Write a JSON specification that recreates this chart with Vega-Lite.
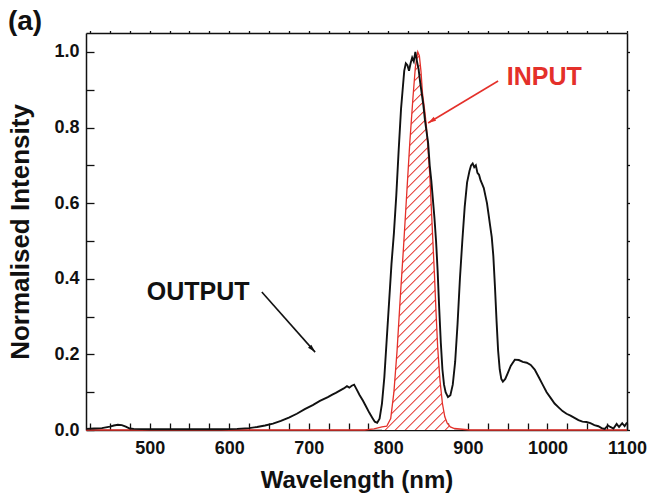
{
"$schema": "https://vega.github.io/schema/vega-lite/v6.json",
"width": 541, "height": 397,
"autosize": {"type": "none"},
"padding": {"left": 86, "top": 33, "right": 22, "bottom": 64},
"title": {"text": "(a)", "anchor": "start", "frame": "bounds", "fontSize": 28, "fontWeight": "bold", "color": "#111", "baseline": "alphabetic", "offset": -28},
"config": {
  "font": "Liberation Sans",
  "view": {"stroke": null},
  "axis": {"grid": false, "domainColor": "#111", "domainWidth": 1.5, "tickColor": "#111", "tickWidth": 1.3, "labelColor": "#111", "titleColor": "#111", "labelFontWeight": "bold", "titleFontWeight": "bold", "labelFontSize": 18, "titleFontSize": 24, "labelOverlap": false, "labelFlush": false, "labelBound": false}
},
"datasets": {
  "output": [
    {"wavelength": 420, "intensity": 0.003}, {"wavelength": 430, "intensity": 0.004}, {"wavelength": 440, "intensity": 0.005}, {"wavelength": 450, "intensity": 0.009}, {"wavelength": 455, "intensity": 0.012}, {"wavelength": 460, "intensity": 0.014}, {"wavelength": 465, "intensity": 0.013}, {"wavelength": 470, "intensity": 0.009}, {"wavelength": 475, "intensity": 0.004}, {"wavelength": 480, "intensity": 0.003}, {"wavelength": 500, "intensity": 0.002}, {"wavelength": 530, "intensity": 0.002}, {"wavelength": 560, "intensity": 0.002}, {"wavelength": 590, "intensity": 0.002}, {"wavelength": 610, "intensity": 0.003}, {"wavelength": 625, "intensity": 0.005}, {"wavelength": 635, "intensity": 0.008}, {"wavelength": 645, "intensity": 0.012}, {"wavelength": 655, "intensity": 0.017}, {"wavelength": 665, "intensity": 0.024}, {"wavelength": 675, "intensity": 0.033}, {"wavelength": 685, "intensity": 0.043}, {"wavelength": 695, "intensity": 0.055}, {"wavelength": 705, "intensity": 0.066}, {"wavelength": 714, "intensity": 0.077}, {"wavelength": 724, "intensity": 0.087}, {"wavelength": 729, "intensity": 0.093}, {"wavelength": 734, "intensity": 0.098}, {"wavelength": 739, "intensity": 0.104}, {"wavelength": 744, "intensity": 0.110}, {"wavelength": 748, "intensity": 0.116}, {"wavelength": 751, "intensity": 0.112}, {"wavelength": 754, "intensity": 0.117}, {"wavelength": 757, "intensity": 0.120}, {"wavelength": 760, "intensity": 0.108}, {"wavelength": 764, "intensity": 0.092}, {"wavelength": 768, "intensity": 0.078}, {"wavelength": 772, "intensity": 0.062}, {"wavelength": 776, "intensity": 0.046}, {"wavelength": 780, "intensity": 0.032}, {"wavelength": 783, "intensity": 0.022}, {"wavelength": 786, "intensity": 0.019}, {"wavelength": 789, "intensity": 0.030}, {"wavelength": 792, "intensity": 0.070}, {"wavelength": 795, "intensity": 0.14}, {"wavelength": 798, "intensity": 0.24}, {"wavelength": 801, "intensity": 0.34}, {"wavelength": 804, "intensity": 0.44}, {"wavelength": 807, "intensity": 0.52}, {"wavelength": 810, "intensity": 0.62}, {"wavelength": 813, "intensity": 0.74}, {"wavelength": 816, "intensity": 0.85}, {"wavelength": 818, "intensity": 0.90}, {"wavelength": 820, "intensity": 0.95}, {"wavelength": 822, "intensity": 0.97}, {"wavelength": 824, "intensity": 0.965}, {"wavelength": 826, "intensity": 0.95}, {"wavelength": 828, "intensity": 0.97}, {"wavelength": 830, "intensity": 0.985}, {"wavelength": 832, "intensity": 0.975}, {"wavelength": 834, "intensity": 1.0}, {"wavelength": 836, "intensity": 0.975}, {"wavelength": 838, "intensity": 0.955}, {"wavelength": 840, "intensity": 0.92}, {"wavelength": 842, "intensity": 0.89}, {"wavelength": 844, "intensity": 0.86}, {"wavelength": 846, "intensity": 0.82}, {"wavelength": 848, "intensity": 0.79}, {"wavelength": 850, "intensity": 0.76}, {"wavelength": 852, "intensity": 0.70}, {"wavelength": 854, "intensity": 0.66}, {"wavelength": 856, "intensity": 0.61}, {"wavelength": 858, "intensity": 0.56}, {"wavelength": 860, "intensity": 0.50}, {"wavelength": 862, "intensity": 0.42}, {"wavelength": 864, "intensity": 0.32}, {"wavelength": 866, "intensity": 0.23}, {"wavelength": 868, "intensity": 0.16}, {"wavelength": 870, "intensity": 0.12}, {"wavelength": 872, "intensity": 0.10}, {"wavelength": 875, "intensity": 0.087}, {"wavelength": 878, "intensity": 0.092}, {"wavelength": 881, "intensity": 0.12}, {"wavelength": 884, "intensity": 0.18}, {"wavelength": 887, "intensity": 0.28}, {"wavelength": 890, "intensity": 0.40}, {"wavelength": 893, "intensity": 0.50}, {"wavelength": 896, "intensity": 0.59}, {"wavelength": 899, "intensity": 0.655}, {"wavelength": 902, "intensity": 0.685}, {"wavelength": 904, "intensity": 0.70}, {"wavelength": 906, "intensity": 0.705}, {"wavelength": 908, "intensity": 0.695}, {"wavelength": 910, "intensity": 0.70}, {"wavelength": 912, "intensity": 0.68}, {"wavelength": 914, "intensity": 0.675}, {"wavelength": 916, "intensity": 0.66}, {"wavelength": 918, "intensity": 0.65}, {"wavelength": 920, "intensity": 0.64}, {"wavelength": 922, "intensity": 0.62}, {"wavelength": 924, "intensity": 0.60}, {"wavelength": 926, "intensity": 0.57}, {"wavelength": 928, "intensity": 0.54}, {"wavelength": 930, "intensity": 0.51}, {"wavelength": 932, "intensity": 0.46}, {"wavelength": 934, "intensity": 0.38}, {"wavelength": 936, "intensity": 0.29}, {"wavelength": 938, "intensity": 0.21}, {"wavelength": 940, "intensity": 0.16}, {"wavelength": 942, "intensity": 0.135}, {"wavelength": 944, "intensity": 0.128}, {"wavelength": 947, "intensity": 0.135}, {"wavelength": 950, "intensity": 0.15}, {"wavelength": 954, "intensity": 0.17}, {"wavelength": 959, "intensity": 0.186}, {"wavelength": 964, "intensity": 0.185}, {"wavelength": 969, "intensity": 0.18}, {"wavelength": 974, "intensity": 0.178}, {"wavelength": 979, "intensity": 0.172}, {"wavelength": 984, "intensity": 0.16}, {"wavelength": 989, "intensity": 0.14}, {"wavelength": 994, "intensity": 0.12}, {"wavelength": 999, "intensity": 0.10}, {"wavelength": 1004, "intensity": 0.085}, {"wavelength": 1009, "intensity": 0.07}, {"wavelength": 1014, "intensity": 0.06}, {"wavelength": 1019, "intensity": 0.05}, {"wavelength": 1024, "intensity": 0.043}, {"wavelength": 1029, "intensity": 0.038}, {"wavelength": 1034, "intensity": 0.032}, {"wavelength": 1039, "intensity": 0.026}, {"wavelength": 1044, "intensity": 0.022}, {"wavelength": 1049, "intensity": 0.021}, {"wavelength": 1054, "intensity": 0.018}, {"wavelength": 1059, "intensity": 0.013}, {"wavelength": 1064, "intensity": 0.010}, {"wavelength": 1068, "intensity": 0.005}, {"wavelength": 1072, "intensity": 0.003}, {"wavelength": 1076, "intensity": 0.012}, {"wavelength": 1079, "intensity": 0.008}, {"wavelength": 1083, "intensity": 0.004}, {"wavelength": 1087, "intensity": 0.016}, {"wavelength": 1090, "intensity": 0.008}, {"wavelength": 1094, "intensity": 0.018}, {"wavelength": 1097, "intensity": 0.010}, {"wavelength": 1100, "intensity": 0.02}
  ],
  "input": [
    {"wavelength": 420, "intensity": 0}, {"wavelength": 600, "intensity": 0}, {"wavelength": 770, "intensity": 0}, {"wavelength": 782, "intensity": 0.003}, {"wavelength": 792, "intensity": 0.008}, {"wavelength": 798, "intensity": 0.01}, {"wavelength": 803, "intensity": 0.03}, {"wavelength": 807, "intensity": 0.10}, {"wavelength": 811, "intensity": 0.21}, {"wavelength": 815, "intensity": 0.35}, {"wavelength": 819, "intensity": 0.48}, {"wavelength": 823, "intensity": 0.62}, {"wavelength": 827, "intensity": 0.76}, {"wavelength": 831, "intensity": 0.88}, {"wavelength": 834, "intensity": 0.96}, {"wavelength": 837, "intensity": 1.0}, {"wavelength": 839, "intensity": 0.99}, {"wavelength": 841, "intensity": 0.95}, {"wavelength": 843, "intensity": 0.89}, {"wavelength": 846, "intensity": 0.84}, {"wavelength": 848, "intensity": 0.80}, {"wavelength": 850, "intensity": 0.74}, {"wavelength": 852, "intensity": 0.68}, {"wavelength": 854, "intensity": 0.59}, {"wavelength": 856, "intensity": 0.50}, {"wavelength": 858, "intensity": 0.41}, {"wavelength": 860, "intensity": 0.31}, {"wavelength": 862, "intensity": 0.22}, {"wavelength": 865, "intensity": 0.13}, {"wavelength": 868, "intensity": 0.07}, {"wavelength": 871, "intensity": 0.035}, {"wavelength": 874, "intensity": 0.018}, {"wavelength": 878, "intensity": 0.008}, {"wavelength": 883, "intensity": 0.004}, {"wavelength": 893, "intensity": 0.002}, {"wavelength": 903, "intensity": 0}, {"wavelength": 1000, "intensity": 0}, {"wavelength": 1100, "intensity": 0}
  ],
  "arrow_out": [{"x": 641, "y": 0.365, "x2": 708, "y2": 0.206}],
  "arrow_in": [{"x": 938, "y": 0.923, "x2": 850, "y2": 0.812}],
  "note_out": [{"x": 561, "y": 0.365, "label": "OUTPUT"}],
  "note_in": [{"x": 996, "y": 0.934, "label": "INPUT"}]
},
"layer": [
  {
    "data": {"name": "input"},
    "transform": [{"filter": "datum.wavelength >= 790 && datum.wavelength <= 890"}],
    "mark": {"type": "area", "fill": {"gradient": "linear", "x1": 0, "y1": 0, "x2": 0.2201, "y2": 1.1494, "stops": [
      {"offset": 0, "color": "#ffffff"}, {"offset": 0.003, "color": "#e4302a"}, {"offset": 0.006, "color": "#ffffff"},
      {"offset": 0.0222, "color": "#ffffff"}, {"offset": 0.0252, "color": "#e4302a"}, {"offset": 0.0282, "color": "#ffffff"},
      {"offset": 0.0444, "color": "#ffffff"}, {"offset": 0.0474, "color": "#e4302a"}, {"offset": 0.0504, "color": "#ffffff"},
      {"offset": 0.0666, "color": "#ffffff"}, {"offset": 0.0696, "color": "#e4302a"}, {"offset": 0.0726, "color": "#ffffff"},
      {"offset": 0.0888, "color": "#ffffff"}, {"offset": 0.0918, "color": "#e4302a"}, {"offset": 0.0948, "color": "#ffffff"},
      {"offset": 0.111, "color": "#ffffff"}, {"offset": 0.114, "color": "#e4302a"}, {"offset": 0.117, "color": "#ffffff"},
      {"offset": 0.1332, "color": "#ffffff"}, {"offset": 0.1362, "color": "#e4302a"}, {"offset": 0.1392, "color": "#ffffff"},
      {"offset": 0.1554, "color": "#ffffff"}, {"offset": 0.1584, "color": "#e4302a"}, {"offset": 0.1614, "color": "#ffffff"},
      {"offset": 0.1776, "color": "#ffffff"}, {"offset": 0.1806, "color": "#e4302a"}, {"offset": 0.1836, "color": "#ffffff"},
      {"offset": 0.1998, "color": "#ffffff"}, {"offset": 0.2028, "color": "#e4302a"}, {"offset": 0.2058, "color": "#ffffff"},
      {"offset": 0.222, "color": "#ffffff"}, {"offset": 0.225, "color": "#e4302a"}, {"offset": 0.228, "color": "#ffffff"},
      {"offset": 0.2442, "color": "#ffffff"}, {"offset": 0.2472, "color": "#e4302a"}, {"offset": 0.2502, "color": "#ffffff"},
      {"offset": 0.2664, "color": "#ffffff"}, {"offset": 0.2694, "color": "#e4302a"}, {"offset": 0.2724, "color": "#ffffff"},
      {"offset": 0.2886, "color": "#ffffff"}, {"offset": 0.2916, "color": "#e4302a"}, {"offset": 0.2946, "color": "#ffffff"},
      {"offset": 0.3108, "color": "#ffffff"}, {"offset": 0.3138, "color": "#e4302a"}, {"offset": 0.3168, "color": "#ffffff"},
      {"offset": 0.333, "color": "#ffffff"}, {"offset": 0.336, "color": "#e4302a"}, {"offset": 0.339, "color": "#ffffff"},
      {"offset": 0.3552, "color": "#ffffff"}, {"offset": 0.3582, "color": "#e4302a"}, {"offset": 0.3612, "color": "#ffffff"},
      {"offset": 0.3774, "color": "#ffffff"}, {"offset": 0.3804, "color": "#e4302a"}, {"offset": 0.3834, "color": "#ffffff"},
      {"offset": 0.3996, "color": "#ffffff"}, {"offset": 0.4026, "color": "#e4302a"}, {"offset": 0.4056, "color": "#ffffff"},
      {"offset": 0.4218, "color": "#ffffff"}, {"offset": 0.4248, "color": "#e4302a"}, {"offset": 0.4278, "color": "#ffffff"},
      {"offset": 0.444, "color": "#ffffff"}, {"offset": 0.447, "color": "#e4302a"}, {"offset": 0.45, "color": "#ffffff"},
      {"offset": 0.4662, "color": "#ffffff"}, {"offset": 0.4692, "color": "#e4302a"}, {"offset": 0.4722, "color": "#ffffff"},
      {"offset": 0.4884, "color": "#ffffff"}, {"offset": 0.4914, "color": "#e4302a"}, {"offset": 0.4944, "color": "#ffffff"},
      {"offset": 0.5106, "color": "#ffffff"}, {"offset": 0.5136, "color": "#e4302a"}, {"offset": 0.5166, "color": "#ffffff"},
      {"offset": 0.5328, "color": "#ffffff"}, {"offset": 0.5358, "color": "#e4302a"}, {"offset": 0.5388, "color": "#ffffff"},
      {"offset": 0.555, "color": "#ffffff"}, {"offset": 0.558, "color": "#e4302a"}, {"offset": 0.561, "color": "#ffffff"},
      {"offset": 0.5772, "color": "#ffffff"}, {"offset": 0.5802, "color": "#e4302a"}, {"offset": 0.5832, "color": "#ffffff"},
      {"offset": 0.5994, "color": "#ffffff"}, {"offset": 0.6024, "color": "#e4302a"}, {"offset": 0.6054, "color": "#ffffff"},
      {"offset": 0.6216, "color": "#ffffff"}, {"offset": 0.6246, "color": "#e4302a"}, {"offset": 0.6276, "color": "#ffffff"},
      {"offset": 0.6438, "color": "#ffffff"}, {"offset": 0.6468, "color": "#e4302a"}, {"offset": 0.6498, "color": "#ffffff"},
      {"offset": 0.666, "color": "#ffffff"}, {"offset": 0.669, "color": "#e4302a"}, {"offset": 0.672, "color": "#ffffff"},
      {"offset": 0.6882, "color": "#ffffff"}, {"offset": 0.6912, "color": "#e4302a"}, {"offset": 0.6942, "color": "#ffffff"},
      {"offset": 0.7104, "color": "#ffffff"}, {"offset": 0.7134, "color": "#e4302a"}, {"offset": 0.7164, "color": "#ffffff"},
      {"offset": 0.7326, "color": "#ffffff"}, {"offset": 0.7356, "color": "#e4302a"}, {"offset": 0.7386, "color": "#ffffff"},
      {"offset": 0.7548, "color": "#ffffff"}, {"offset": 0.7578, "color": "#e4302a"}, {"offset": 0.7608, "color": "#ffffff"},
      {"offset": 0.777, "color": "#ffffff"}, {"offset": 0.78, "color": "#e4302a"}, {"offset": 0.783, "color": "#ffffff"},
      {"offset": 0.7992, "color": "#ffffff"}, {"offset": 0.8022, "color": "#e4302a"}, {"offset": 0.8052, "color": "#ffffff"},
      {"offset": 0.8214, "color": "#ffffff"}, {"offset": 0.8244, "color": "#e4302a"}, {"offset": 0.8274, "color": "#ffffff"},
      {"offset": 0.8436, "color": "#ffffff"}, {"offset": 0.8466, "color": "#e4302a"}, {"offset": 0.8496, "color": "#ffffff"},
      {"offset": 0.8658, "color": "#ffffff"}, {"offset": 0.8688, "color": "#e4302a"}, {"offset": 0.8718, "color": "#ffffff"},
      {"offset": 0.888, "color": "#ffffff"}, {"offset": 0.891, "color": "#e4302a"}, {"offset": 0.894, "color": "#ffffff"},
      {"offset": 0.9102, "color": "#ffffff"}, {"offset": 0.9132, "color": "#e4302a"}, {"offset": 0.9162, "color": "#ffffff"},
      {"offset": 0.9324, "color": "#ffffff"}, {"offset": 0.9354, "color": "#e4302a"}, {"offset": 0.9384, "color": "#ffffff"},
      {"offset": 0.9546, "color": "#ffffff"}, {"offset": 0.9576, "color": "#e4302a"}, {"offset": 0.9606, "color": "#ffffff"},
      {"offset": 0.9768, "color": "#ffffff"}, {"offset": 0.9798, "color": "#e4302a"}, {"offset": 0.9828, "color": "#ffffff"},
      {"offset": 1, "color": "#ffffff"}
    ]}},
    "encoding": {
      "x": {"field": "wavelength", "type": "quantitative", "scale": {"domain": [420, 1100], "nice": false, "zero": false},
        "axis": {"orient": "bottom", "title": "Wavelength (nm)", "values": [425,450,475,500,525,550,575,600,625,650,675,700,725,750,775,800,825,850,875,900,925,950,975,1000,1025,1050,1075,1100], "labelExpr": "datum.value % 100 === 0 ? datum.label : ''", "format": "d", "tickSize": -7, "labelPadding": 16, "titlePadding": 11}},
      "y": {"field": "intensity", "type": "quantitative", "scale": {"domain": [0, 1.05], "nice": false},
        "axis": {"orient": "left", "title": "Normalised Intensity", "titleFontSize": 26, "values": [0,0.1,0.2,0.3,0.4,0.5,0.6,0.7,0.8,0.9,1.0], "labelExpr": "round(datum.value*10) % 2 === 0 ? format(datum.value, '.1f') : ''", "tickSize": -8, "labelPadding": 15, "titlePadding": 20}}
    }
  },
  {
    "data": {"name": "input"},
    "mark": {"type": "line", "color": "#e4302a", "strokeWidth": 1.3},
    "encoding": {
      "x": {"field": "wavelength", "type": "quantitative", "axis": null},
      "y": {"field": "intensity", "type": "quantitative", "axis": null}
    }
  },
  {
    "data": {"name": "output"},
    "mark": {"type": "line", "color": "#111111", "strokeWidth": 1.9},
    "encoding": {
      "x": {"field": "wavelength", "type": "quantitative", "axis": null},
      "y": {"field": "intensity", "type": "quantitative", "axis": null}
    }
  },
  {
    "data": {"name": "arrow_out"},
    "mark": {"type": "rule", "color": "#111111", "strokeWidth": 1.6},
    "encoding": {
      "x": {"field": "x", "type": "quantitative", "axis": null}, "y": {"field": "y", "type": "quantitative", "axis": null},
      "x2": {"field": "x2"}, "y2": {"field": "y2"}
    }
  },
  {
    "data": {"name": "arrow_out"},
    "mark": {"type": "point", "shape": "M0,0L0.45,1.6L-0.45,1.6Z", "filled": true, "color": "#111111", "opacity": 1, "size": 100, "angle": 137},
    "encoding": {
      "x": {"field": "x2", "type": "quantitative", "axis": null}, "y": {"field": "y2", "type": "quantitative", "axis": null}
    }
  },
  {
    "data": {"name": "arrow_in"},
    "mark": {"type": "rule", "color": "#e4302a", "strokeWidth": 1.6},
    "encoding": {
      "x": {"field": "x", "type": "quantitative", "axis": null}, "y": {"field": "y", "type": "quantitative", "axis": null},
      "x2": {"field": "x2"}, "y2": {"field": "y2"}
    }
  },
  {
    "data": {"name": "arrow_in"},
    "mark": {"type": "point", "shape": "M0,0L0.45,1.6L-0.45,1.6Z", "filled": true, "color": "#e4302a", "opacity": 1, "size": 100, "angle": 238},
    "encoding": {
      "x": {"field": "x2", "type": "quantitative", "axis": null}, "y": {"field": "y2", "type": "quantitative", "axis": null}
    }
  },
  {
    "data": {"name": "note_out"},
    "mark": {"type": "text", "color": "#111111", "fontSize": 25, "fontWeight": "bold", "align": "center", "baseline": "middle"},
    "encoding": {
      "x": {"field": "x", "type": "quantitative", "axis": null}, "y": {"field": "y", "type": "quantitative", "axis": null},
      "text": {"field": "label"}
    }
  },
  {
    "data": {"name": "note_in"},
    "mark": {"type": "text", "color": "#e4302a", "fontSize": 25, "fontWeight": "bold", "align": "center", "baseline": "middle"},
    "encoding": {
      "x": {"field": "x", "type": "quantitative", "axis": null}, "y": {"field": "y", "type": "quantitative", "axis": null},
      "text": {"field": "label"}
    }
  },
  {
    "data": {"name": "output"},
    "mark": {"type": "line", "opacity": 0},
    "encoding": {
      "x": {"field": "wavelength", "type": "quantitative",
        "axis": {"orient": "top", "title": null, "labels": false, "values": [425,450,475,500,525,550,575,600,625,650,675,700,725,750,775,800,825,850,875,900,925,950,975,1000,1025,1050,1075,1100], "tickSize": 2.5}},
      "y": {"field": "intensity", "type": "quantitative",
        "axis": {"orient": "right", "title": null, "labels": false, "values": [0,0.1,0.2,0.3,0.4,0.5,0.6,0.7,0.8,0.9,1.0], "tickSize": 2.5}}
    }
  }
],
"resolve": {"axis": {"x": "independent", "y": "independent"}}
}
